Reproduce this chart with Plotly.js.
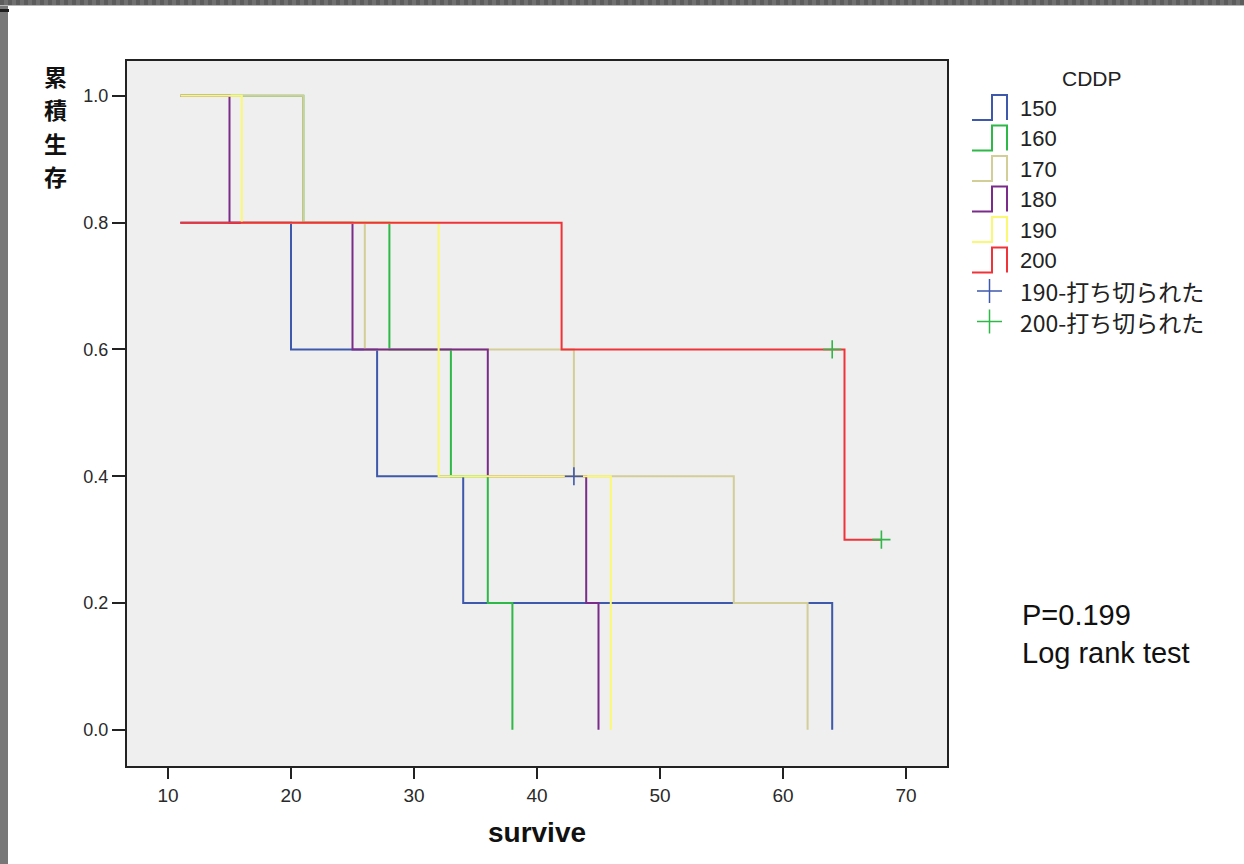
<!DOCTYPE html>
<html>
<head>
<meta charset="utf-8">
<script src="https://cdn.plot.ly/plotly-3.0.1.min.js"></script>
<style>
  html, body { margin: 0; padding: 0; background: #ffffff; width: 1244px; height: 864px; overflow: hidden; }
  #chart { position: absolute; left: 0; top: 0; width: 1244px; height: 864px; }
  .deco { position: absolute; pointer-events: none; }
</style>
</head>
<body>
<div id="chart"></div>
<div class="deco" style="left:0;top:0;width:1244px;height:5px;background:repeating-linear-gradient(90deg,#5c5c5c 0 4px,#707070 4px 8px);"></div>
<div class="deco" style="left:0;top:5px;width:1244px;height:1px;background:#b8b8b8;"></div>
<div class="deco" style="left:0;top:6px;width:8px;height:858px;background:#787878;"></div>
<div class="deco" style="left:0;top:9px;width:9px;height:3px;background:#1e1e1e;"></div>
<script>
// ---- data ----
const groups = ['150', '160', '170', '180', '190', '200'];
const colors = ['#3e58ac', '#2eb848', '#d3ce97', '#7b2c8a', '#fbf873', '#ef3338'];

const time150 = [11, 20, 27, 34, 64];
const surv150 = [0.8, 0.6, 0.4, 0.2, 0.0];
const time160 = [11, 21, 28, 33, 36, 38];
const surv160 = [1.0, 0.8, 0.6, 0.4, 0.2, 0.0];
const time170 = [11, 21, 26, 43, 56, 62];
const surv170 = [1.0, 0.8, 0.6, 0.4, 0.2, 0.0];
const time180 = [11, 15, 25, 36, 44, 45];
const surv180 = [1.0, 0.8, 0.6, 0.4, 0.2, 0.0];
const time190 = [11, 16, 32, 46];
const surv190 = [1.0, 0.8, 0.4, 0.0];
const time200 = [11, 42, 65, 68];
const surv200 = [0.8, 0.6, 0.3, 0.3];

const censorTime190 = [43];
const censorSurv190 = [0.4];
const censorTime200 = [64, 68];
const censorSurv200 = [0.6, 0.3];

const censorNames = ['190-打ち切られた', '200-打ち切られた'];
const censorColors = ['#3e58ac', '#2eb848'];

const xTickVals = [10, 20, 30, 40, 50, 60, 70];
const yTickVals = [0.0, 0.2, 0.4, 0.6, 0.8, 1.0];
const yTitleChars = ['累', '積', '生', '存'];
const legendTitle = 'CDDP';
const xTitle = 'survive';
const noteText = 'P=0.199<br>Log rank test';

// ---- geometry (pixels) ----
const L = 127, R = 947, T = 61, B = 766;
const PX = x => (x - L) / (R - L);
const PY = y => (B - y) / (B - T);

const times = [time150, time160, time170, time180, time190, time200];
const survs = [surv150, surv160, surv170, surv180, surv190, surv200];

const traces = [];
groups.forEach((g, i) => {
  traces.push({
    type: 'scatter', mode: 'lines', name: g,
    x: times[i], y: survs[i],
    line: { shape: 'hv', color: colors[i], width: 2 },
    showlegend: false, hoverinfo: 'x+y+name'
  });
});
[[censorTime190, censorSurv190], [censorTime200, censorSurv200]].forEach((c, i) => {
  traces.push({
    type: 'scatter', mode: 'markers', name: censorNames[i],
    x: c[0], y: c[1],
    marker: { symbol: 'cross-thin', size: 13, line: { color: censorColors[i], width: 1.6 }, color: censorColors[i] },
    showlegend: false
  });
});

const shapes = [];
const annotations = [];
const fontMain = 'Liberation Sans, Arial, sans-serif';
const fontCJK = 'Noto Sans CJK JP, Liberation Sans, sans-serif';

// legend title
annotations.push({ xref: 'paper', yref: 'paper', x: PX(1092), y: PY(78), text: legendTitle,
  showarrow: false, xanchor: 'center', yanchor: 'middle', font: { family: fontMain, size: 21, color: '#222' } });

groups.forEach((g, i) => {
  const cy = 108 + i * 30.5;
  shapes.push({ type: 'path', xref: 'paper', yref: 'paper',
    path: `M ${PX(972)} ${PY(cy + 12)} L ${PX(992)} ${PY(cy + 12)} L ${PX(992)} ${PY(cy - 13)} L ${PX(1007)} ${PY(cy - 13)} L ${PX(1007)} ${PY(cy + 12)}`,
    line: { color: colors[i], width: 2 } });
  annotations.push({ xref: 'paper', yref: 'paper', x: PX(1018), y: PY(cy), text: g, showarrow: false,
    xanchor: 'left', yanchor: 'middle', font: { family: fontMain, size: 22, color: '#222' } });
});
censorNames.forEach((n, i) => {
  const cy = 108 + (6 + i) * 30.5;
  shapes.push({ type: 'line', xref: 'paper', yref: 'paper', x0: PX(977), x1: PX(1002), y0: PY(cy), y1: PY(cy),
    line: { color: censorColors[i], width: 1.5 } });
  shapes.push({ type: 'line', xref: 'paper', yref: 'paper', x0: PX(989.5), x1: PX(989.5), y0: PY(cy - 12), y1: PY(cy + 12),
    line: { color: censorColors[i], width: 1.5 } });
  annotations.push({ xref: 'paper', yref: 'paper', x: PX(1018), y: PY(cy), text: n, showarrow: false,
    xanchor: 'left', yanchor: 'middle', font: { family: fontCJK, size: 23, color: '#222' } });
});

// y-axis title (stacked characters, each its own text so the boxes do not overlap)
yTitleChars.forEach((c, i) => {
  annotations.push({ xref: 'paper', yref: 'paper', x: PX(55), y: PY(126 + (i - 1.5) * 33.6), text: '<b>' + c + '</b>',
    showarrow: false, xanchor: 'center', yanchor: 'middle', font: { family: fontCJK, size: 23, color: '#111' } });
});

// P-value note
annotations.push({ xref: 'paper', yref: 'paper', x: PX(1020), y: PY(634), text: noteText, showarrow: false,
  xanchor: 'left', yanchor: 'middle', align: 'left', font: { family: fontMain, size: 29, color: '#111' } });

const layout = {
  width: 1244, height: 864,
  margin: { l: L, r: 1244 - R, t: T, b: 864 - B, pad: 0 },
  paper_bgcolor: '#ffffff', plot_bgcolor: '#efefef',
  showlegend: false,
  xaxis: {
    range: [6.667, 73.333], tickvals: xTickVals, ticks: 'outside', ticklen: 11, tickwidth: 2, tickcolor: '#222',
    showline: true, linecolor: '#222', linewidth: 2, mirror: true, showgrid: false, zeroline: false,
    tickfont: { family: fontMain, size: 19, color: '#2a2a2a' },
    title: { text: '<b>' + xTitle + '</b>', font: { family: fontMain, size: 28, color: '#111' }, standoff: 18 }
  },
  yaxis: {
    range: [-0.057, 1.055], tickvals: yTickVals, tickformat: '.1f', ticks: 'outside', ticklen: 13, tickwidth: 2, tickcolor: '#222',
    showline: true, linecolor: '#222', linewidth: 2, mirror: true, showgrid: false, zeroline: false,
    tickfont: { family: fontMain, size: 18, color: '#2a2a2a' }
  },
  shapes: shapes,
  annotations: annotations
};

Plotly.newPlot('chart', traces, layout, { displayModeBar: false, staticPlot: true });
</script>
</body>
</html>
